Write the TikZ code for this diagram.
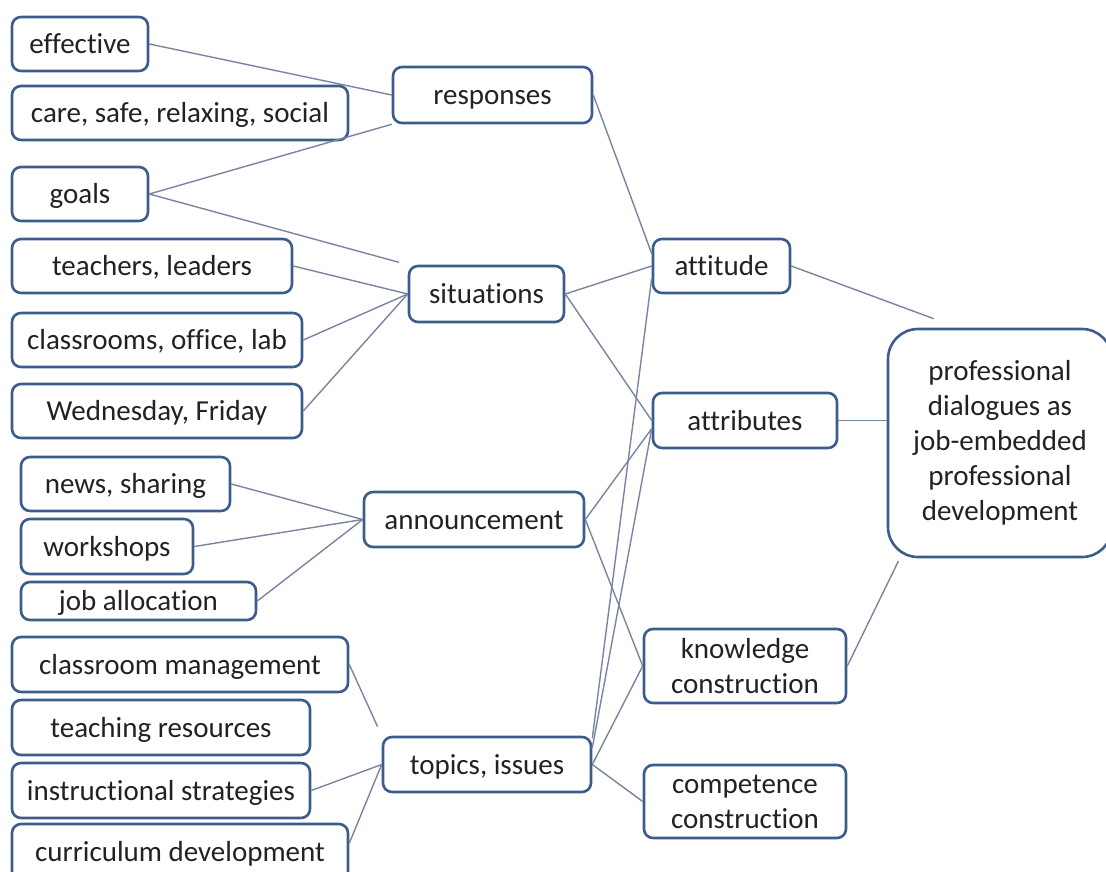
\documentclass[tikz,border=0pt]{standalone}
\usepackage{fontspec}
\setmainfont{Carlito}[Ligatures={NoCommon}]
\definecolor{boxblue}{HTML}{3C5D8C}
\definecolor{linegray}{HTML}{7884A0}
\definecolor{txt}{HTML}{222222}
\begin{document}
\begin{tikzpicture}[x=1pt,y=-1pt,
  box/.style={draw=boxblue, line width=2.6pt, rounded corners=9pt, fill=white,
    inner sep=0pt, align=center, text=txt, font=\fontsize{29}{35}\selectfont},
  onebox/.style={box, text height=19pt, text depth=0pt},
  link/.style={draw=linegray, line width=1.4pt}]
\useasboundingbox (0,0) rectangle (1106,872);
% left column
\node[onebox, minimum width=136pt, minimum height=54pt] (eff) at (80,44) {effective};
\node[onebox, minimum width=336pt, minimum height=54pt] (care) at (180,113) {care, safe, relaxing, social};
\node[onebox, minimum width=136pt, minimum height=54pt] (goals) at (80,194) {goals};
\node[onebox, minimum width=280pt, minimum height=54pt] (teach) at (152,266) {teachers, leaders};
\node[onebox, minimum width=290pt, minimum height=54pt] (class) at (157,340) {classrooms, office, lab};
\node[onebox, minimum width=290pt, minimum height=54pt] (wed) at (157,411) {Wednesday, Friday};
\node[onebox, minimum width=209pt, minimum height=54pt] (news) at (125.5,484) {news, sharing};
\node[onebox, minimum width=172pt, minimum height=55pt] (work) at (107,546.5) {workshops};
\node[onebox, minimum width=235pt, minimum height=38pt] (job) at (138.5,601) {job allocation};
\node[onebox, minimum width=336pt, minimum height=55pt] (cm) at (180,664.5) {classroom management};
\node[onebox, minimum width=298pt, minimum height=55pt] (tr) at (161,727.5) {teaching resources};
\node[onebox, minimum width=298pt, minimum height=55pt] (is) at (161,790.5) {instructional strategies};
\node[onebox, minimum width=336pt, minimum height=56pt] (cd) at (180,852) {curriculum development};
% middle column
\node[onebox, minimum width=199pt, minimum height=56pt] (resp) at (492.5,95) {responses};
\node[onebox, minimum width=155pt, minimum height=56pt] (sit) at (486.5,294) {situations};
\node[onebox, minimum width=220pt, minimum height=55pt] (ann) at (474,519.5) {announcement};
\node[onebox, minimum width=208pt, minimum height=55pt] (top) at (487,764.5) {topics, issues};
% right column
\node[onebox, minimum width=137pt, minimum height=54pt] (att) at (721.5,266) {attitude};
\node[onebox, minimum width=184pt, minimum height=55pt] (attr) at (745,420.5) {attributes};
\node[box, minimum width=202pt, minimum height=74pt] (know) at (745,666) {knowledge\\construction};
\node[box, minimum width=202pt, minimum height=73pt] (comp) at (745,801.5) {competence\\construction};
\node[box, rounded corners=30pt, minimum width=224pt, minimum height=228pt] (big) at (1000,443)
  {\raisebox{-2pt}{\parbox{200pt}{\centering professional\\dialogues as\\job-embedded\\professional\\development}}};
% connectors
\draw[link] (eff.east) -- (resp.west);
\draw[link] (goals.east) -- (resp.south west);
\draw[link, shorten >=9pt] (goals.east) -- (sit.north west);
\draw[link] (teach.east) -- (sit.west);
\draw[link] (class.east) -- (sit.west);
\draw[link] (wed.east) -- (sit.west);
\draw[link] (resp.east) -- (att.170);
\draw[link] (sit.east) -- (att.west);
\draw[link] (sit.east) -- (attr.west);
\draw[link] (att.190) -- (top.14);
\draw[link] (attr.185) -- (top.9);
\draw[link] (ann.east) -- (attr.185);
\draw[link] (ann.east) -- (know.west);
\draw[link] (top.east) -- (know.west);
\draw[link] (top.east) -- (comp.west);
\draw[link, shorten >=26pt] (att.east) -- (big.110);
\draw[link] (attr.east) -- (attr.east -| big.west);
\draw[link, shorten >=3pt] (know.east) -- (big.229);
\draw[link] (news.east) -- (ann.west);
\draw[link] (work.east) -- (ann.west);
\draw[link] (job.east) -- (ann.west);
\draw[link, shorten >=10pt] (cm.east) -- (top.north west);
\draw[link] (is.east) -- (top.west);
\draw[link] (cd.3) -- (top.west);
\end{tikzpicture}
\end{document}
